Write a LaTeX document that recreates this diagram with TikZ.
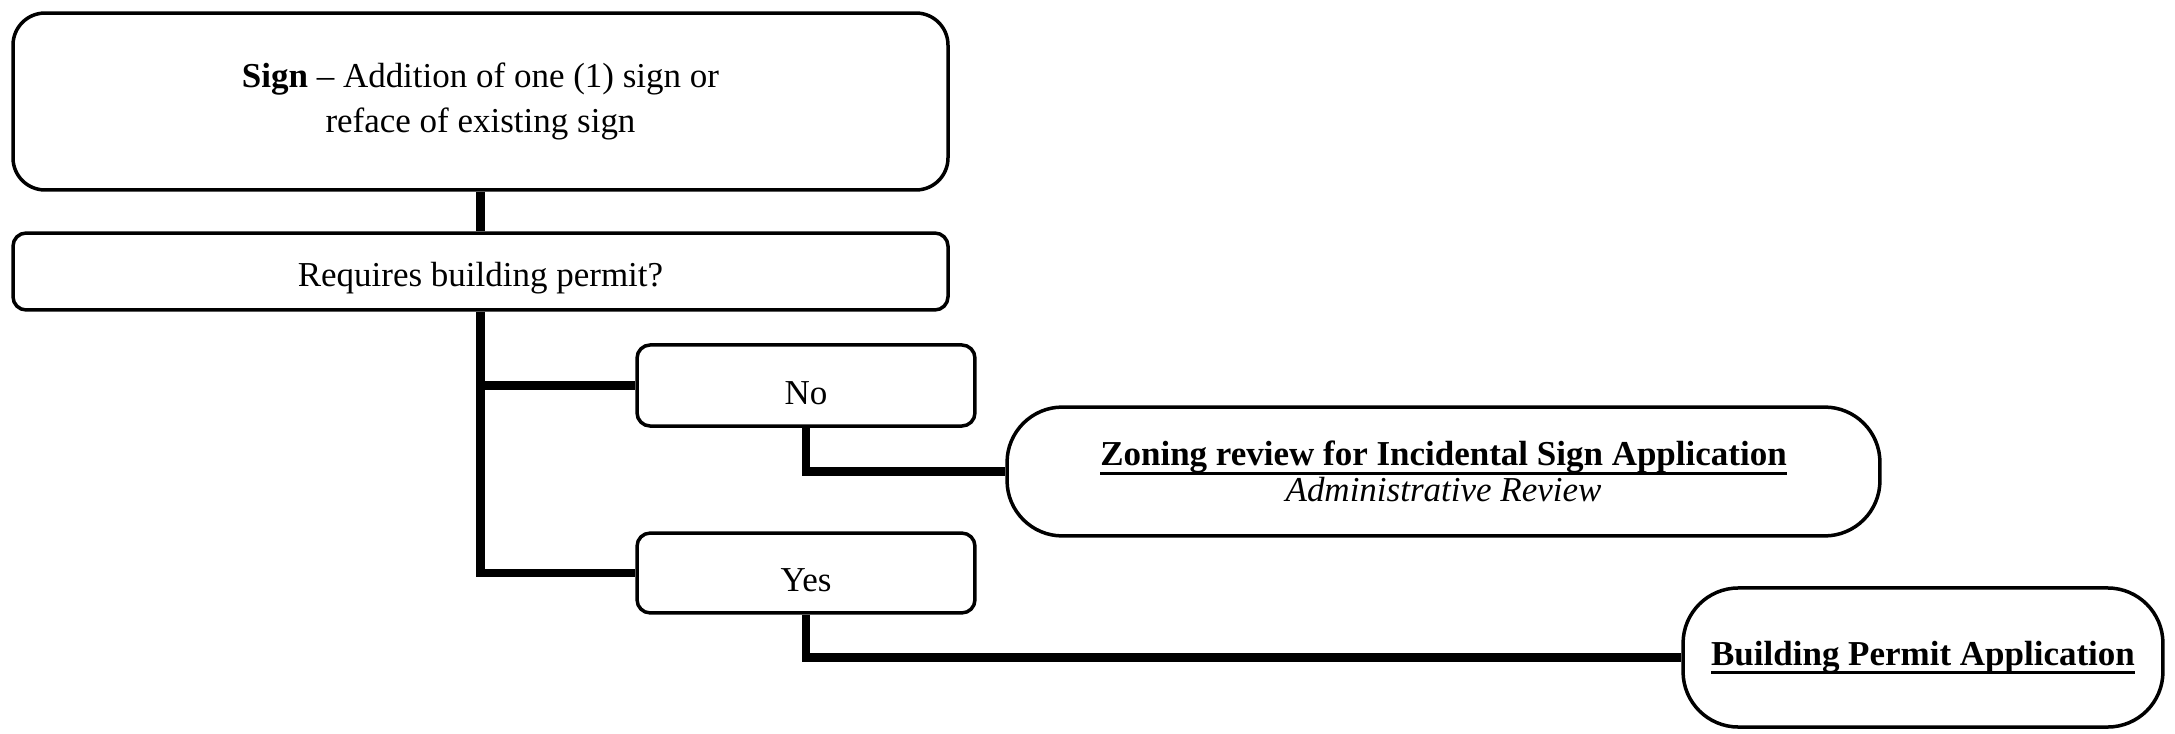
\documentclass[tikz,border=0pt]{standalone}
\usepackage{fontspec}
\setmainfont{Liberation Serif}
\usepackage{tikz}
\usetikzlibrary{positioning}

\newcommand{\linedtitle}[1]{\leavevmode\setbox0\hbox{\textbf{#1}}\rlap{\rule[-3pt]{\wd0}{0.9pt}}\box0}

\begin{document}
\begin{tikzpicture}[
    boxline/.style = {draw=black, line width=1.2pt, align=center, inner sep=0pt},
    stepbox/.style = {boxline, rounded corners=4.5pt, font=\fontsize{12}{15.4}\selectfont, execute at begin node={\rule{0pt}{13pt}}},
    signbox/.style = {stepbox, rounded corners=11pt},
    appbox/.style = {boxline, rounded corners=19pt, font=\fontsize{12}{12.2}\selectfont},
    link/.style = {line width=3pt, line join=miter},
    x=34.3pt, y=-34.3pt
]

\useasboundingbox (0, 0) rectangle (21.75, 7.34);

\node [signbox, minimum width=320.7pt, minimum height=60.7pt] (sign) at (4.805, 1.015)
    {\textbf{Sign} – Addition of one (1) sign or\\reface of existing sign};
\node [stepbox, minimum width=320.7pt, minimum height=26.4pt] (ask) at (4.805, 2.715) {Requires building permit?};

\node [stepbox, minimum width=115.9pt, minimum height=27.8pt] (no) at (8.06, 3.855) {No};
\node [stepbox, minimum width=115.9pt, minimum height=27.4pt] (yes) at (8.06, 5.73) {Yes};

\node [appbox, minimum width=299.4pt, minimum height=44.2pt] (zoning) at (14.435, 4.715)
    {\linedtitle{Zoning review for Incidental Sign Application}\\\textit{Administrative Review}};
\node [appbox, minimum width=164.6pt, minimum height=47.7pt] (permit) at (19.23, 6.575)
    {\linedtitle{Building Permit Application}};

\draw[link] (sign) -- (ask);
\draw[link] (ask.south) |- (yes.west);
\draw[link] (ask.south |- no.west) -- (no.west);
\draw[link] (no.south) |- (zoning.west);
\draw[link] (yes.south) |- (permit.west);

\end{tikzpicture}
\end{document}
